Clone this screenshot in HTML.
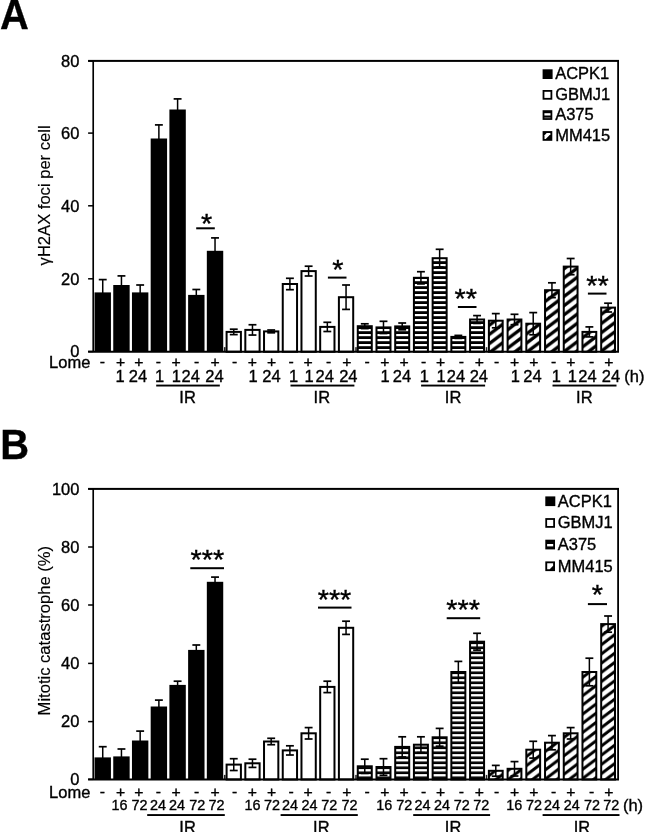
<!DOCTYPE html>
<html><head><meta charset="utf-8"><title>Figure</title>
<style>html,body{margin:0;padding:0;background:#fff;}body{width:645px;height:832px;overflow:hidden;}svg{display:block;will-change:transform;filter:grayscale(1);font-family:"Liberation Sans",sans-serif;font-size:16px;fill:#000;}text{stroke:#000;stroke-width:0.35px;}</style>
</head><body>
<svg width="645" height="832" viewBox="0 0 645 832">
<defs>
<pattern id="hatchA" patternUnits="userSpaceOnUse" x="0" y="4.2" width="12.2" height="9.2"><rect width="12.2" height="9.2" fill="#fff"/><path d="M-12.2,9.2 L12.2,-9.2 M0,9.2 L12.2,0 M0,18.4 L24.4,0" stroke="#000" stroke-width="3.3" fill="none"/></pattern>
<pattern id="stripeA" patternUnits="userSpaceOnUse" x="0" y="259" width="10" height="5"><rect width="10" height="5" fill="#000"/><rect width="10" height="2.2" fill="#fff"/></pattern>
<pattern id="hatchB" patternUnits="userSpaceOnUse" x="0" y="3.5" width="12.2" height="9.2"><rect width="12.2" height="9.2" fill="#fff"/><path d="M-12.2,9.2 L12.2,-9.2 M0,9.2 L12.2,0 M0,18.4 L24.4,0" stroke="#000" stroke-width="3" fill="none"/></pattern>
<pattern id="stripeB" patternUnits="userSpaceOnUse" x="0" y="644.1" width="10" height="5"><rect width="10" height="5" fill="#000"/><rect width="10" height="2.4" fill="#fff"/></pattern>
</defs>
<rect width="645" height="832" fill="#fff"/>
<text transform="translate(0,28.75) scale(0.95,1)" font-size="42" font-weight="bold">A</text>
<text transform="translate(0.3,458.9) scale(0.95,1)" font-size="42" font-weight="bold">B</text>
<rect x="94.53" y="292.4" width="16.4" height="59.35" fill="#000"/>
<rect x="101.98" y="279.6" width="1.5" height="27.6"/>
<rect x="98.78" y="278.75" width="7.9" height="1.7"/>
<rect x="113.25" y="285" width="16.4" height="66.75" fill="#000"/>
<rect x="120.7" y="275.9" width="1.5" height="20.2"/>
<rect x="117.5" y="275.05" width="7.9" height="1.7"/>
<rect x="131.96" y="292.4" width="16.4" height="59.35" fill="#000"/>
<rect x="139.41" y="285" width="1.5" height="16.8"/>
<rect x="136.21" y="284.15" width="7.9" height="1.7"/>
<rect x="150.68" y="138.5" width="16.4" height="213.25" fill="#000"/>
<rect x="158.13" y="124.9" width="1.5" height="29.2"/>
<rect x="154.93" y="124.05" width="7.9" height="1.7"/>
<rect x="169.4" y="109.5" width="16.4" height="242.25" fill="#000"/>
<rect x="176.85" y="98.9" width="1.5" height="23.2"/>
<rect x="173.65" y="98.05" width="7.9" height="1.7"/>
<rect x="188.12" y="294.9" width="16.4" height="56.85" fill="#000"/>
<rect x="195.56" y="289.5" width="1.5" height="12.8"/>
<rect x="192.37" y="288.65" width="7.9" height="1.7"/>
<rect x="206.83" y="250.8" width="16.4" height="100.95" fill="#000"/>
<rect x="214.28" y="237.9" width="1.5" height="27.8"/>
<rect x="211.08" y="237.05" width="7.9" height="1.7"/>
<rect x="223.93" y="347.15" width="1.6" height="4.6" fill="#222"/>
<rect x="226.6" y="331.9" width="14.3" height="19.85" fill="#fff" stroke="#000" stroke-width="2"/>
<rect x="233" y="329.2" width="1.5" height="5.4"/>
<rect x="229.8" y="328.35" width="7.9" height="1.7"/>
<rect x="229.8" y="333.75" width="7.9" height="1.7"/>
<rect x="245.32" y="329.9" width="14.3" height="21.85" fill="#fff" stroke="#000" stroke-width="2"/>
<rect x="251.72" y="324.75" width="1.5" height="10.3"/>
<rect x="248.52" y="323.9" width="7.9" height="1.7"/>
<rect x="248.52" y="334.2" width="7.9" height="1.7"/>
<rect x="264.03" y="331.4" width="14.3" height="20.35" fill="#fff" stroke="#000" stroke-width="2"/>
<rect x="270.43" y="330" width="1.5" height="2.8"/>
<rect x="267.23" y="329.15" width="7.9" height="1.7"/>
<rect x="267.23" y="331.95" width="7.9" height="1.7"/>
<rect x="282.75" y="284" width="14.3" height="67.75" fill="#fff" stroke="#000" stroke-width="2"/>
<rect x="289.15" y="278.3" width="1.5" height="11.4"/>
<rect x="285.95" y="277.45" width="7.9" height="1.7"/>
<rect x="285.95" y="288.85" width="7.9" height="1.7"/>
<rect x="301.47" y="271.1" width="14.3" height="80.65" fill="#fff" stroke="#000" stroke-width="2"/>
<rect x="307.87" y="266.2" width="1.5" height="9.8"/>
<rect x="304.67" y="265.35" width="7.9" height="1.7"/>
<rect x="304.67" y="275.15" width="7.9" height="1.7"/>
<rect x="320.18" y="326.9" width="14.3" height="24.85" fill="#fff" stroke="#000" stroke-width="2"/>
<rect x="326.58" y="322.3" width="1.5" height="9.2"/>
<rect x="323.38" y="321.45" width="7.9" height="1.7"/>
<rect x="323.38" y="330.65" width="7.9" height="1.7"/>
<rect x="338.9" y="297.2" width="14.3" height="54.55" fill="#fff" stroke="#000" stroke-width="2"/>
<rect x="345.3" y="285" width="1.5" height="24.4"/>
<rect x="342.1" y="284.15" width="7.9" height="1.7"/>
<rect x="342.1" y="308.55" width="7.9" height="1.7"/>
<rect x="354.9" y="347.15" width="2.2" height="4.6" fill="#555"/>
<rect x="357.77" y="326.2" width="14" height="25.55" fill="url(#stripeA)" stroke="#000" stroke-width="2"/>
<rect x="364.02" y="323.8" width="1.5" height="4.8"/>
<rect x="360.82" y="322.95" width="7.9" height="1.7"/>
<rect x="360.82" y="327.75" width="7.9" height="1.7"/>
<rect x="376.49" y="327.4" width="14" height="24.35" fill="url(#stripeA)" stroke="#000" stroke-width="2"/>
<rect x="382.74" y="321.3" width="1.5" height="12.2"/>
<rect x="379.54" y="320.45" width="7.9" height="1.7"/>
<rect x="379.54" y="332.65" width="7.9" height="1.7"/>
<rect x="395.2" y="326.4" width="14" height="25.35" fill="url(#stripeA)" stroke="#000" stroke-width="2"/>
<rect x="401.45" y="323" width="1.5" height="6.8"/>
<rect x="398.25" y="322.15" width="7.9" height="1.7"/>
<rect x="398.25" y="328.95" width="7.9" height="1.7"/>
<rect x="413.92" y="277.8" width="14" height="73.95" fill="url(#stripeA)" stroke="#000" stroke-width="2"/>
<rect x="420.17" y="271.7" width="1.5" height="12.2"/>
<rect x="416.97" y="270.85" width="7.9" height="1.7"/>
<rect x="416.97" y="283.05" width="7.9" height="1.7"/>
<rect x="432.64" y="258.2" width="14" height="93.55" fill="url(#stripeA)" stroke="#000" stroke-width="2"/>
<rect x="438.89" y="249.3" width="1.5" height="17.8"/>
<rect x="435.69" y="248.45" width="7.9" height="1.7"/>
<rect x="435.69" y="266.25" width="7.9" height="1.7"/>
<rect x="451.35" y="336.9" width="14" height="14.85" fill="url(#stripeA)" stroke="#000" stroke-width="2"/>
<rect x="457.6" y="335.4" width="1.5" height="3"/>
<rect x="454.4" y="334.55" width="7.9" height="1.7"/>
<rect x="454.4" y="337.55" width="7.9" height="1.7"/>
<rect x="470.07" y="319.5" width="14" height="32.25" fill="url(#stripeA)" stroke="#000" stroke-width="2"/>
<rect x="476.32" y="315.6" width="1.5" height="7.8"/>
<rect x="473.12" y="314.75" width="7.9" height="1.7"/>
<rect x="473.12" y="322.55" width="7.9" height="1.7"/>
<rect x="485.77" y="347.15" width="1.5" height="4.6" fill="#222"/>
<rect x="488.89" y="320.7" width="13.8" height="31.05" fill="url(#hatchA)" stroke="#000" stroke-width="2"/>
<rect x="495.04" y="313.6" width="1.5" height="14.2"/>
<rect x="491.84" y="312.75" width="7.9" height="1.7"/>
<rect x="491.84" y="326.95" width="7.9" height="1.7"/>
<rect x="507.6" y="319.5" width="13.8" height="32.25" fill="url(#hatchA)" stroke="#000" stroke-width="2"/>
<rect x="513.75" y="314.3" width="1.5" height="10.4"/>
<rect x="510.55" y="313.45" width="7.9" height="1.7"/>
<rect x="510.55" y="323.85" width="7.9" height="1.7"/>
<rect x="526.32" y="323.7" width="13.8" height="28.05" fill="url(#hatchA)" stroke="#000" stroke-width="2"/>
<rect x="532.47" y="312.6" width="1.5" height="22.2"/>
<rect x="529.27" y="311.75" width="7.9" height="1.7"/>
<rect x="529.27" y="333.95" width="7.9" height="1.7"/>
<rect x="545.04" y="290.2" width="13.8" height="61.55" fill="url(#hatchA)" stroke="#000" stroke-width="2"/>
<rect x="551.19" y="282.8" width="1.5" height="14.8"/>
<rect x="547.99" y="281.95" width="7.9" height="1.7"/>
<rect x="547.99" y="296.75" width="7.9" height="1.7"/>
<rect x="563.75" y="266.6" width="13.8" height="85.15" fill="url(#hatchA)" stroke="#000" stroke-width="2"/>
<rect x="569.9" y="258.5" width="1.5" height="16.2"/>
<rect x="566.7" y="257.65" width="7.9" height="1.7"/>
<rect x="566.7" y="273.85" width="7.9" height="1.7"/>
<rect x="582.47" y="331.9" width="13.8" height="19.85" fill="url(#hatchA)" stroke="#000" stroke-width="2"/>
<rect x="588.62" y="326.9" width="1.5" height="10"/>
<rect x="585.42" y="326.05" width="7.9" height="1.7"/>
<rect x="585.42" y="336.05" width="7.9" height="1.7"/>
<rect x="601.19" y="307.6" width="13.8" height="44.15" fill="url(#hatchA)" stroke="#000" stroke-width="2"/>
<rect x="607.34" y="303.2" width="1.5" height="8.8"/>
<rect x="604.14" y="302.35" width="7.9" height="1.7"/>
<rect x="604.14" y="311.15" width="7.9" height="1.7"/>
<rect x="88.1" y="59.9" width="530.9" height="2"/>
<rect x="88.1" y="350.75" width="530.9" height="2"/>
<rect x="92.38" y="60.9" width="1.65" height="290.85"/>
<rect x="617.2" y="60.9" width="1.8" height="290.85"/>
<rect x="88.1" y="60.25" width="5.1" height="1.5"/>
<text transform="translate(79.4,66.75) scale(1.03,1)" text-anchor="end">80</text>
<rect x="88.1" y="132.35" width="5.1" height="1.5"/>
<text transform="translate(79.4,138.85) scale(1.03,1)" text-anchor="end">60</text>
<rect x="88.1" y="205.05" width="5.1" height="1.5"/>
<text transform="translate(79.4,211.55) scale(1.03,1)" text-anchor="end">40</text>
<rect x="88.1" y="278.05" width="5.1" height="1.5"/>
<text transform="translate(79.4,284.55) scale(1.03,1)" text-anchor="end">20</text>
<rect x="88.1" y="350.75" width="5.1" height="1.5"/>
<text transform="translate(79.4,357.25) scale(1.03,1)" text-anchor="end">0</text>
<text transform="translate(49.9,195.4) rotate(-90) scale(1.03,1)" text-anchor="middle" font-size="16.1" style="stroke-width:0.15px">&#947;H2AX foci per cell</text>
<text transform="translate(49.1,367.9) scale(1.03,1)">Lome</text>
<text transform="translate(102.3,366.8) scale(1.05,1)" text-anchor="middle" font-size="15">-</text>
<text transform="translate(120.7,366.8) scale(1.05,1)" text-anchor="middle" font-size="15">+</text>
<text transform="translate(138.9,366.8) scale(1.05,1)" text-anchor="middle" font-size="15">+</text>
<text transform="translate(158.4,366.8) scale(1.05,1)" text-anchor="middle" font-size="15">-</text>
<text transform="translate(176.1,366.8) scale(1.05,1)" text-anchor="middle" font-size="15">+</text>
<text transform="translate(196.7,366.8) scale(1.05,1)" text-anchor="middle" font-size="15">-</text>
<text transform="translate(215.1,366.8) scale(1.05,1)" text-anchor="middle" font-size="15">+</text>
<text transform="translate(234.5,366.8) scale(1.05,1)" text-anchor="middle" font-size="15">-</text>
<text transform="translate(252.3,366.8) scale(1.05,1)" text-anchor="middle" font-size="15">+</text>
<text transform="translate(271.5,366.8) scale(1.05,1)" text-anchor="middle" font-size="15">+</text>
<text transform="translate(291,366.8) scale(1.05,1)" text-anchor="middle" font-size="15">-</text>
<text transform="translate(308.2,366.8) scale(1.05,1)" text-anchor="middle" font-size="15">+</text>
<text transform="translate(328.7,366.8) scale(1.05,1)" text-anchor="middle" font-size="15">-</text>
<text transform="translate(346.8,366.8) scale(1.05,1)" text-anchor="middle" font-size="15">+</text>
<text transform="translate(367,366.8) scale(1.05,1)" text-anchor="middle" font-size="15">-</text>
<text transform="translate(384.9,366.8) scale(1.05,1)" text-anchor="middle" font-size="15">+</text>
<text transform="translate(404.1,366.8) scale(1.05,1)" text-anchor="middle" font-size="15">+</text>
<text transform="translate(423.6,366.8) scale(1.05,1)" text-anchor="middle" font-size="15">-</text>
<text transform="translate(440.7,366.8) scale(1.05,1)" text-anchor="middle" font-size="15">+</text>
<text transform="translate(461.3,366.8) scale(1.05,1)" text-anchor="middle" font-size="15">-</text>
<text transform="translate(479.3,366.8) scale(1.05,1)" text-anchor="middle" font-size="15">+</text>
<text transform="translate(496.7,366.8) scale(1.05,1)" text-anchor="middle" font-size="15">-</text>
<text transform="translate(514.5,366.8) scale(1.05,1)" text-anchor="middle" font-size="15">+</text>
<text transform="translate(533.8,366.8) scale(1.05,1)" text-anchor="middle" font-size="15">+</text>
<text transform="translate(553.7,366.8) scale(1.05,1)" text-anchor="middle" font-size="15">-</text>
<text transform="translate(570.9,366.8) scale(1.05,1)" text-anchor="middle" font-size="15">+</text>
<text transform="translate(591.5,366.8) scale(1.05,1)" text-anchor="middle" font-size="15">-</text>
<text transform="translate(608.9,366.8) scale(1.05,1)" text-anchor="middle" font-size="15">+</text>
<text transform="translate(120,382.3) scale(1.03,1)" text-anchor="middle">1</text>
<text transform="translate(138,382.3) scale(1.03,1)" text-anchor="middle">24</text>
<text transform="translate(159.7,382.3) scale(1.03,1)" text-anchor="middle">1</text>
<text transform="translate(176.4,382.3) scale(1.03,1)" text-anchor="middle">1</text>
<text transform="translate(190.7,382.3) scale(1.03,1)" text-anchor="middle">24</text>
<text transform="translate(214.5,382.3) scale(1.03,1)" text-anchor="middle">24</text>
<text transform="translate(253.1,382.3) scale(1.03,1)" text-anchor="middle">1</text>
<text transform="translate(271.5,382.3) scale(1.03,1)" text-anchor="middle">24</text>
<text transform="translate(293.6,382.3) scale(1.03,1)" text-anchor="middle">1</text>
<text transform="translate(309.2,382.3) scale(1.03,1)" text-anchor="middle">1</text>
<text transform="translate(324.7,382.3) scale(1.03,1)" text-anchor="middle">24</text>
<text transform="translate(348.3,382.3) scale(1.03,1)" text-anchor="middle">24</text>
<text transform="translate(385.2,382.3) scale(1.03,1)" text-anchor="middle">1</text>
<text transform="translate(402,382.3) scale(1.03,1)" text-anchor="middle">24</text>
<text transform="translate(424.4,382.3) scale(1.03,1)" text-anchor="middle">1</text>
<text transform="translate(441,382.3) scale(1.03,1)" text-anchor="middle">1</text>
<text transform="translate(456,382.3) scale(1.03,1)" text-anchor="middle">24</text>
<text transform="translate(478.8,382.3) scale(1.03,1)" text-anchor="middle">24</text>
<text transform="translate(515.3,382.3) scale(1.03,1)" text-anchor="middle">1</text>
<text transform="translate(532.5,382.3) scale(1.03,1)" text-anchor="middle">24</text>
<text transform="translate(556.3,382.3) scale(1.03,1)" text-anchor="middle">1</text>
<text transform="translate(572.4,382.3) scale(1.03,1)" text-anchor="middle">1</text>
<text transform="translate(587.4,382.3) scale(1.03,1)" text-anchor="middle">24</text>
<text transform="translate(611,382.3) scale(1.03,1)" text-anchor="middle">24</text>
<text transform="translate(634.3,382.3) scale(1.03,1)" text-anchor="middle">(h)</text>
<rect x="156.2" y="384.6" width="63.6" height="1.9"/>
<rect x="290.5" y="384.6" width="63.9" height="1.9"/>
<rect x="421.1" y="384.6" width="64" height="1.9"/>
<rect x="552.5" y="384.6" width="64" height="1.9"/>
<text transform="translate(187.6,402.6) scale(1.03,1)" text-anchor="middle">IR</text>
<text transform="translate(321.8,402.6) scale(1.03,1)" text-anchor="middle">IR</text>
<text transform="translate(453.1,402.6) scale(1.03,1)" text-anchor="middle">IR</text>
<text transform="translate(584.3,402.6) scale(1.03,1)" text-anchor="middle">IR</text>
<text transform="translate(206.5,232.6) scale(1.07,1)" text-anchor="middle" font-size="27">*</text>
<rect x="196.2" y="227.3" width="18.6" height="2"/>
<text transform="translate(337.8,278.6) scale(1.07,1)" text-anchor="middle" font-size="27">*</text>
<rect x="327.9" y="276.6" width="18.6" height="2"/>
<text transform="translate(465.7,307.6) scale(1.07,1)" text-anchor="middle" font-size="27">**</text>
<rect x="457.9" y="306" width="18.6" height="2"/>
<text transform="translate(597.5,294.7) scale(1.07,1)" text-anchor="middle" font-size="27">**</text>
<rect x="587.9" y="292.6" width="18.6" height="2"/>
<rect x="542.6" y="69.3" width="10" height="9.7"/>
<text transform="translate(555.2,79.4) scale(1.03,1)">ACPK1</text>
<rect x="543.5" y="90.9" width="7.9" height="7.9" fill="#fff" stroke="#000" stroke-width="1.8"/>
<text transform="translate(555.2,100.1) scale(1.03,1)">GBMJ1</text>
<rect x="542.6" y="110.2" width="9.7" height="9.7"/>
<rect x="544.4" y="113.2" width="6.1" height="2.3" fill="#fff"/>
<rect x="544.4" y="117.5" width="6.1" height="0.7" fill="#aaa"/>
<text transform="translate(555.2,120.3) scale(1.03,1)">A375</text>
<rect x="542.6" y="131.1" width="9.7" height="9.7"/>
<path d="M546.7,133 L550.4,133 L550.4,134.2 L545.7,138.9 L544.5,138.9 L544.5,135.2 Z" fill="#fff"/>
<text transform="translate(555.2,141.2) scale(1.03,1)">MM415</text>
<rect x="94.53" y="757.4" width="16.4" height="22.1" fill="#000"/>
<rect x="101.98" y="746.7" width="1.5" height="23.4"/>
<rect x="98.78" y="745.85" width="7.9" height="1.7"/>
<rect x="113.25" y="756.4" width="16.4" height="23.1" fill="#000"/>
<rect x="120.7" y="749" width="1.5" height="16.8"/>
<rect x="117.5" y="748.15" width="7.9" height="1.7"/>
<rect x="131.96" y="740.5" width="16.4" height="39" fill="#000"/>
<rect x="139.41" y="731.1" width="1.5" height="20.8"/>
<rect x="136.21" y="730.25" width="7.9" height="1.7"/>
<rect x="150.68" y="706.5" width="16.4" height="73" fill="#000"/>
<rect x="158.13" y="700.1" width="1.5" height="14.8"/>
<rect x="154.93" y="699.25" width="7.9" height="1.7"/>
<rect x="169.4" y="684.9" width="16.4" height="94.6" fill="#000"/>
<rect x="176.85" y="681.2" width="1.5" height="9.4"/>
<rect x="173.65" y="680.35" width="7.9" height="1.7"/>
<rect x="188.12" y="649.9" width="16.4" height="129.6" fill="#000"/>
<rect x="195.56" y="645" width="1.5" height="11.8"/>
<rect x="192.37" y="644.15" width="7.9" height="1.7"/>
<rect x="206.83" y="581.8" width="16.4" height="197.7" fill="#000"/>
<rect x="214.28" y="577.1" width="1.5" height="11.4"/>
<rect x="211.08" y="576.25" width="7.9" height="1.7"/>
<rect x="223.93" y="774.9" width="1.6" height="4.6" fill="#222"/>
<rect x="226.6" y="764.6" width="14.3" height="14.9" fill="#fff" stroke="#000" stroke-width="2"/>
<rect x="233" y="758.7" width="1.5" height="11.8"/>
<rect x="229.8" y="757.85" width="7.9" height="1.7"/>
<rect x="229.8" y="769.65" width="7.9" height="1.7"/>
<rect x="245.32" y="763.3" width="14.3" height="16.2" fill="#fff" stroke="#000" stroke-width="2"/>
<rect x="251.72" y="759.2" width="1.5" height="8.2"/>
<rect x="248.52" y="758.35" width="7.9" height="1.7"/>
<rect x="248.52" y="766.55" width="7.9" height="1.7"/>
<rect x="264.03" y="741.5" width="14.3" height="38" fill="#fff" stroke="#000" stroke-width="2"/>
<rect x="270.43" y="738.3" width="1.5" height="6.4"/>
<rect x="267.23" y="737.45" width="7.9" height="1.7"/>
<rect x="267.23" y="743.85" width="7.9" height="1.7"/>
<rect x="282.75" y="750.4" width="14.3" height="29.1" fill="#fff" stroke="#000" stroke-width="2"/>
<rect x="289.15" y="745.8" width="1.5" height="9.2"/>
<rect x="285.95" y="744.95" width="7.9" height="1.7"/>
<rect x="285.95" y="754.15" width="7.9" height="1.7"/>
<rect x="301.47" y="733.3" width="14.3" height="46.2" fill="#fff" stroke="#000" stroke-width="2"/>
<rect x="307.87" y="727.6" width="1.5" height="11.4"/>
<rect x="304.67" y="726.75" width="7.9" height="1.7"/>
<rect x="304.67" y="738.15" width="7.9" height="1.7"/>
<rect x="320.18" y="686.9" width="14.3" height="92.6" fill="#fff" stroke="#000" stroke-width="2"/>
<rect x="326.58" y="681.2" width="1.5" height="11.4"/>
<rect x="323.38" y="680.35" width="7.9" height="1.7"/>
<rect x="323.38" y="691.75" width="7.9" height="1.7"/>
<rect x="338.9" y="627.8" width="14.3" height="151.7" fill="#fff" stroke="#000" stroke-width="2"/>
<rect x="345.3" y="621.2" width="1.5" height="13.2"/>
<rect x="342.1" y="620.35" width="7.9" height="1.7"/>
<rect x="342.1" y="633.55" width="7.9" height="1.7"/>
<rect x="354.9" y="774.9" width="2.2" height="4.6" fill="#555"/>
<rect x="357.77" y="766.3" width="14" height="13.2" fill="url(#stripeB)" stroke="#000" stroke-width="2"/>
<rect x="364.02" y="759.2" width="1.5" height="14.2"/>
<rect x="360.82" y="758.35" width="7.9" height="1.7"/>
<rect x="360.82" y="772.55" width="7.9" height="1.7"/>
<rect x="376.49" y="767" width="14" height="12.5" fill="url(#stripeB)" stroke="#000" stroke-width="2"/>
<rect x="382.74" y="758.7" width="1.5" height="16.6"/>
<rect x="379.54" y="757.85" width="7.9" height="1.7"/>
<rect x="379.54" y="774.45" width="7.9" height="1.7"/>
<rect x="395.2" y="746.9" width="14" height="32.6" fill="url(#stripeB)" stroke="#000" stroke-width="2"/>
<rect x="401.45" y="736.8" width="1.5" height="20.2"/>
<rect x="398.25" y="735.95" width="7.9" height="1.7"/>
<rect x="398.25" y="756.15" width="7.9" height="1.7"/>
<rect x="413.92" y="744.7" width="14" height="34.8" fill="url(#stripeB)" stroke="#000" stroke-width="2"/>
<rect x="420.17" y="736.8" width="1.5" height="15.8"/>
<rect x="416.97" y="735.95" width="7.9" height="1.7"/>
<rect x="416.97" y="751.75" width="7.9" height="1.7"/>
<rect x="432.64" y="737.3" width="14" height="42.2" fill="url(#stripeB)" stroke="#000" stroke-width="2"/>
<rect x="438.89" y="728.4" width="1.5" height="17.8"/>
<rect x="435.69" y="727.55" width="7.9" height="1.7"/>
<rect x="435.69" y="745.35" width="7.9" height="1.7"/>
<rect x="451.35" y="672" width="14" height="107.5" fill="url(#stripeB)" stroke="#000" stroke-width="2"/>
<rect x="457.6" y="661.4" width="1.5" height="21.2"/>
<rect x="454.4" y="660.55" width="7.9" height="1.7"/>
<rect x="454.4" y="681.75" width="7.9" height="1.7"/>
<rect x="470.07" y="641.7" width="14" height="137.8" fill="url(#stripeB)" stroke="#000" stroke-width="2"/>
<rect x="476.32" y="633.3" width="1.5" height="16.8"/>
<rect x="473.12" y="632.45" width="7.9" height="1.7"/>
<rect x="473.12" y="649.25" width="7.9" height="1.7"/>
<rect x="485.77" y="774.9" width="1.5" height="4.6" fill="#222"/>
<rect x="488.89" y="770.8" width="13.8" height="8.7" fill="url(#hatchB)" stroke="#000" stroke-width="2"/>
<rect x="495.04" y="765.4" width="1.5" height="10.8"/>
<rect x="491.84" y="764.55" width="7.9" height="1.7"/>
<rect x="491.84" y="775.35" width="7.9" height="1.7"/>
<rect x="507.6" y="768.8" width="13.8" height="10.7" fill="url(#hatchB)" stroke="#000" stroke-width="2"/>
<rect x="513.75" y="761.6" width="1.5" height="14.4"/>
<rect x="510.55" y="760.75" width="7.9" height="1.7"/>
<rect x="510.55" y="775.15" width="7.9" height="1.7"/>
<rect x="526.32" y="749.7" width="13.8" height="29.8" fill="url(#hatchB)" stroke="#000" stroke-width="2"/>
<rect x="532.47" y="741.3" width="1.5" height="16.8"/>
<rect x="529.27" y="740.45" width="7.9" height="1.7"/>
<rect x="529.27" y="757.25" width="7.9" height="1.7"/>
<rect x="545.04" y="742.7" width="13.8" height="36.8" fill="url(#hatchB)" stroke="#000" stroke-width="2"/>
<rect x="551.19" y="735.6" width="1.5" height="14.2"/>
<rect x="547.99" y="734.75" width="7.9" height="1.7"/>
<rect x="547.99" y="748.95" width="7.9" height="1.7"/>
<rect x="563.75" y="733.3" width="13.8" height="46.2" fill="url(#hatchB)" stroke="#000" stroke-width="2"/>
<rect x="569.9" y="727.6" width="1.5" height="11.4"/>
<rect x="566.7" y="726.75" width="7.9" height="1.7"/>
<rect x="566.7" y="738.15" width="7.9" height="1.7"/>
<rect x="582.47" y="672" width="13.8" height="107.5" fill="url(#hatchB)" stroke="#000" stroke-width="2"/>
<rect x="588.62" y="658.2" width="1.5" height="27.6"/>
<rect x="585.42" y="657.35" width="7.9" height="1.7"/>
<rect x="585.42" y="684.95" width="7.9" height="1.7"/>
<rect x="601.19" y="624.1" width="13.8" height="155.4" fill="url(#hatchB)" stroke="#000" stroke-width="2"/>
<rect x="607.34" y="616" width="1.5" height="16.2"/>
<rect x="604.14" y="615.15" width="7.9" height="1.7"/>
<rect x="604.14" y="631.35" width="7.9" height="1.7"/>
<rect x="88.1" y="487.9" width="530.9" height="2"/>
<rect x="88.1" y="778.5" width="530.9" height="2"/>
<rect x="92.38" y="488.9" width="1.65" height="290.6"/>
<rect x="617.2" y="488.9" width="1.8" height="290.6"/>
<rect x="88.1" y="488.05" width="5.1" height="1.5"/>
<text transform="translate(79.4,494.55) scale(1.03,1)" text-anchor="end">100</text>
<rect x="88.1" y="546.25" width="5.1" height="1.5"/>
<text transform="translate(79.4,552.75) scale(1.03,1)" text-anchor="end">80</text>
<rect x="88.1" y="604.25" width="5.1" height="1.5"/>
<text transform="translate(79.4,610.75) scale(1.03,1)" text-anchor="end">60</text>
<rect x="88.1" y="662.65" width="5.1" height="1.5"/>
<text transform="translate(79.4,669.15) scale(1.03,1)" text-anchor="end">40</text>
<rect x="88.1" y="720.85" width="5.1" height="1.5"/>
<text transform="translate(79.4,727.35) scale(1.03,1)" text-anchor="end">20</text>
<rect x="88.1" y="778.55" width="5.1" height="1.5"/>
<text transform="translate(79.4,785.05) scale(1.03,1)" text-anchor="end">0</text>
<text transform="translate(49.8,630.7) rotate(-90) scale(1.03,1)" text-anchor="middle" font-size="16.1" style="stroke-width:0.15px">Mitotic catastrophe (%)</text>
<text transform="translate(49.1,797.5) scale(1.03,1)">Lome</text>
<text transform="translate(102.3,796.8) scale(1.05,1)" text-anchor="middle" font-size="15">-</text>
<text transform="translate(120.7,796.8) scale(1.05,1)" text-anchor="middle" font-size="15">+</text>
<text transform="translate(138.9,796.8) scale(1.05,1)" text-anchor="middle" font-size="15">+</text>
<text transform="translate(158.4,796.8) scale(1.05,1)" text-anchor="middle" font-size="15">-</text>
<text transform="translate(176.1,796.8) scale(1.05,1)" text-anchor="middle" font-size="15">+</text>
<text transform="translate(196.7,796.8) scale(1.05,1)" text-anchor="middle" font-size="15">-</text>
<text transform="translate(215.1,796.8) scale(1.05,1)" text-anchor="middle" font-size="15">+</text>
<text transform="translate(234.5,796.8) scale(1.05,1)" text-anchor="middle" font-size="15">-</text>
<text transform="translate(252.3,796.8) scale(1.05,1)" text-anchor="middle" font-size="15">+</text>
<text transform="translate(271.5,796.8) scale(1.05,1)" text-anchor="middle" font-size="15">+</text>
<text transform="translate(291,796.8) scale(1.05,1)" text-anchor="middle" font-size="15">-</text>
<text transform="translate(308.2,796.8) scale(1.05,1)" text-anchor="middle" font-size="15">+</text>
<text transform="translate(328.7,796.8) scale(1.05,1)" text-anchor="middle" font-size="15">-</text>
<text transform="translate(346.8,796.8) scale(1.05,1)" text-anchor="middle" font-size="15">+</text>
<text transform="translate(367,796.8) scale(1.05,1)" text-anchor="middle" font-size="15">-</text>
<text transform="translate(384.9,796.8) scale(1.05,1)" text-anchor="middle" font-size="15">+</text>
<text transform="translate(404.1,796.8) scale(1.05,1)" text-anchor="middle" font-size="15">+</text>
<text transform="translate(423.6,796.8) scale(1.05,1)" text-anchor="middle" font-size="15">-</text>
<text transform="translate(440.7,796.8) scale(1.05,1)" text-anchor="middle" font-size="15">+</text>
<text transform="translate(461.3,796.8) scale(1.05,1)" text-anchor="middle" font-size="15">-</text>
<text transform="translate(479.3,796.8) scale(1.05,1)" text-anchor="middle" font-size="15">+</text>
<text transform="translate(496.7,796.8) scale(1.05,1)" text-anchor="middle" font-size="15">-</text>
<text transform="translate(514.5,796.8) scale(1.05,1)" text-anchor="middle" font-size="15">+</text>
<text transform="translate(533.8,796.8) scale(1.05,1)" text-anchor="middle" font-size="15">+</text>
<text transform="translate(553.7,796.8) scale(1.05,1)" text-anchor="middle" font-size="15">-</text>
<text transform="translate(570.9,796.8) scale(1.05,1)" text-anchor="middle" font-size="15">+</text>
<text transform="translate(591.5,796.8) scale(1.05,1)" text-anchor="middle" font-size="15">-</text>
<text transform="translate(608.9,796.8) scale(1.05,1)" text-anchor="middle" font-size="15">+</text>
<text transform="translate(119.4,810.4) scale(1,1)" text-anchor="middle" font-size="14.4">16</text>
<text transform="translate(139.5,810.4) scale(1,1)" text-anchor="middle" font-size="14.4">72</text>
<text transform="translate(157.9,810.4) scale(1,1)" text-anchor="middle" font-size="14.4">24</text>
<text transform="translate(177.1,810.4) scale(1,1)" text-anchor="middle" font-size="14.4">24</text>
<text transform="translate(197.2,810.4) scale(1,1)" text-anchor="middle" font-size="14.4">72</text>
<text transform="translate(216.5,810.4) scale(1,1)" text-anchor="middle" font-size="14.4">72</text>
<text transform="translate(252.4,810.4) scale(1,1)" text-anchor="middle" font-size="14.4">16</text>
<text transform="translate(272,810.4) scale(1,1)" text-anchor="middle" font-size="14.4">72</text>
<text transform="translate(289.9,810.4) scale(1,1)" text-anchor="middle" font-size="14.4">24</text>
<text transform="translate(309.5,810.4) scale(1,1)" text-anchor="middle" font-size="14.4">24</text>
<text transform="translate(329.2,810.4) scale(1,1)" text-anchor="middle" font-size="14.4">72</text>
<text transform="translate(349.4,810.4) scale(1,1)" text-anchor="middle" font-size="14.4">72</text>
<text transform="translate(384.3,810.4) scale(1,1)" text-anchor="middle" font-size="14.4">16</text>
<text transform="translate(404.2,810.4) scale(1,1)" text-anchor="middle" font-size="14.4">72</text>
<text transform="translate(422.5,810.4) scale(1,1)" text-anchor="middle" font-size="14.4">24</text>
<text transform="translate(442.1,810.4) scale(1,1)" text-anchor="middle" font-size="14.4">24</text>
<text transform="translate(461.8,810.4) scale(1,1)" text-anchor="middle" font-size="14.4">72</text>
<text transform="translate(481.2,810.4) scale(1,1)" text-anchor="middle" font-size="14.4">72</text>
<text transform="translate(514.2,810.4) scale(1,1)" text-anchor="middle" font-size="14.4">16</text>
<text transform="translate(534,810.4) scale(1,1)" text-anchor="middle" font-size="14.4">72</text>
<text transform="translate(552.1,810.4) scale(1,1)" text-anchor="middle" font-size="14.4">24</text>
<text transform="translate(571.8,810.4) scale(1,1)" text-anchor="middle" font-size="14.4">24</text>
<text transform="translate(592,810.4) scale(1,1)" text-anchor="middle" font-size="14.4">72</text>
<text transform="translate(611.3,810.4) scale(1,1)" text-anchor="middle" font-size="14.4">72</text>
<text transform="translate(633,810.9) scale(1.03,1)" text-anchor="middle">(h)</text>
<rect x="147.2" y="814.1" width="77.6" height="1.9"/>
<rect x="280.6" y="814.1" width="77.2" height="1.9"/>
<rect x="413.2" y="814.1" width="76.9" height="1.9"/>
<rect x="542.6" y="814.1" width="76.9" height="1.9"/>
<text transform="translate(187.6,832.8) scale(1.03,1)" text-anchor="middle">IR</text>
<text transform="translate(321.3,832.8) scale(1.03,1)" text-anchor="middle">IR</text>
<text transform="translate(453.1,832.8) scale(1.03,1)" text-anchor="middle">IR</text>
<text transform="translate(582,832.8) scale(1.03,1)" text-anchor="middle">IR</text>
<text transform="translate(207.4,568.7) scale(1.07,1)" text-anchor="middle" font-size="27">***</text>
<rect x="190.3" y="567.2" width="33.7" height="2"/>
<text transform="translate(334.5,608.8) scale(1.07,1)" text-anchor="middle" font-size="27">***</text>
<rect x="318" y="606.6" width="33.5" height="2"/>
<text transform="translate(463.1,619.4) scale(1.07,1)" text-anchor="middle" font-size="27">***</text>
<rect x="446.7" y="617.2" width="33.5" height="2"/>
<text transform="translate(597.25,603.8) scale(1.07,1)" text-anchor="middle" font-size="27">*</text>
<rect x="587.9" y="603.1" width="19.1" height="2"/>
<rect x="545.3" y="496.4" width="10" height="9.7"/>
<text transform="translate(557.8,506.5) scale(1.03,1)">ACPK1</text>
<rect x="546.2" y="519" width="7.9" height="7.9" fill="#fff" stroke="#000" stroke-width="1.8"/>
<text transform="translate(557.8,528.2) scale(1.03,1)">GBMJ1</text>
<rect x="545.3" y="539.7" width="9.7" height="9.7"/>
<rect x="547.1" y="544" width="6.1" height="2.4" fill="#fff"/>
<text transform="translate(557.8,549.8) scale(1.03,1)">A375</text>
<rect x="545.3" y="561.4" width="9.7" height="9.7"/>
<path d="M547.2,563.3 L553.1,563.3 L553.1,565.8 L549.7,569.2 L547.2,569.2 Z" fill="#fff"/>
<text transform="translate(557.8,571.5) scale(1.03,1)">MM415</text>
</svg>
</body></html>
